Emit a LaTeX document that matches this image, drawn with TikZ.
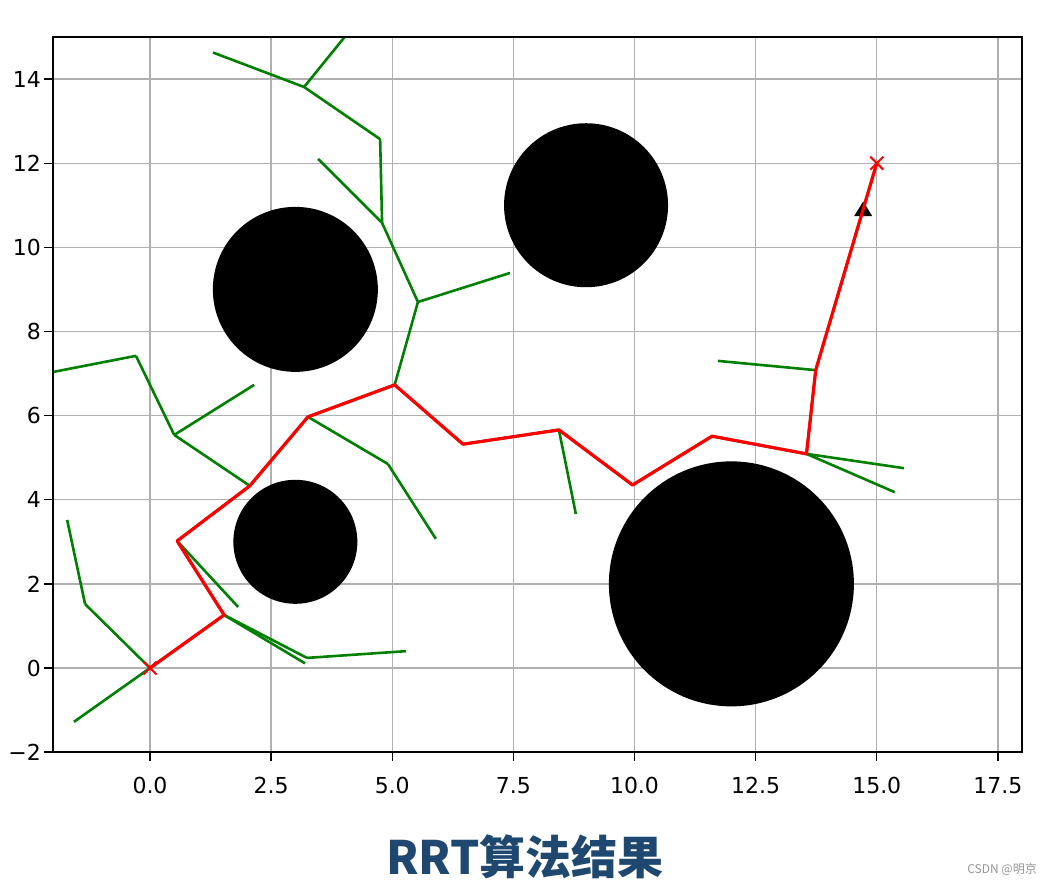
\documentclass[tikz,border=0pt]{standalone}
\usepackage{fontspec}
\newfontfamily\tickfont{DejaVu Sans}
\newfontfamily\cjkfont{Noto Sans CJK SC}
\usetikzlibrary{calc}
\definecolor{gridgray}{RGB}{176,176,176}
\definecolor{treegreen}{RGB}{0,128,0}
\definecolor{pathred}{RGB}{255,0,0}
\definecolor{titleblue}{RGB}{31,72,112}
\definecolor{markgray}{RGB}{150,150,150}
\tikzset{
  treeedge/.style={treegreen, line width=2.6pt},
  routeedge/.style={pathred, line width=3.2pt, line join=round},
  gridline/.style={gridgray, line width=1.3pt},
  frameline/.style={black, line width=1.5pt},
  tickmark/.style={black, line width=1.3pt},
  ticklab/.style={font=\tickfont\fontsize{22}{22}\selectfont, inner sep=0pt},
  obstacle/.style={fill=black},
  xmark/.style={pathred, line width=2pt},
}
\begin{document}
\begin{tikzpicture}[x=1pt,y=-1pt]
\useasboundingbox (0,0) rectangle (1052,886);
\fill[white] (0,0) rectangle (1052,886);

\begin{scope}[shift={(150,668)}, x=48.45pt, y=42.07pt]
  % grid
  \foreach \gx in {0,2.5,...,17.5} \draw[gridline] (\gx,-2) -- (\gx,15);
  \foreach \gy in {-2,0,...,14} \draw[gridline] (-2,\gy) -- (18,\gy);

  % obstacles
  \fill[obstacle] (3,9) circle[radius=82.5pt];
  \fill[obstacle] (9,11) circle[radius=82pt];
  \fill[obstacle] (3,3) circle[radius=62pt];
  \fill[obstacle] (12,2) circle[radius=122.5pt];

  % vertices
  \coordinate (s) at (0,0);
  \coordinate (t) at (1.53,1.26);
  \coordinate (q) at (0.56,3.02);
  \coordinate (n) at (2.06,4.33);
  \coordinate (o) at (3.26,5.97);
  \coordinate (e) at (5.05,6.73);
  \coordinate (f) at (6.46,5.32);
  \coordinate (g) at (8.44,5.66);
  \coordinate (h) at (9.96,4.35);
  \coordinate (i) at (11.6,5.51);
  \coordinate (j) at (13.55,5.09);
  \coordinate (k) at (13.74,7.08);
  \coordinate (goal) at (15,12);
  \coordinate (d) at (5.53,8.70);
  \coordinate (d1) at (7.43,9.39);
  \coordinate (c) at (4.79,10.58);
  \coordinate (c1) at (3.47,12.10);
  \coordinate (b) at (4.75,12.57);
  \coordinate (a) at (3.18,13.81);
  \coordinate (a1) at (1.30,14.63);
  \coordinate (a2) at (4.30,15.40);
  \coordinate (l) at (-0.29,7.42);
  \coordinate (l1) at (-2.30,6.97);
  \coordinate (m) at (0.50,5.54);
  \coordinate (m1) at (2.15,6.73);
  \coordinate (p) at (4.91,4.85);
  \coordinate (p1) at (5.90,3.07);
  \coordinate (g1) at (8.79,3.66);
  \coordinate (j1) at (15.56,4.75);
  \coordinate (j2) at (15.37,4.18);
  \coordinate (k1) at (11.72,7.30);
  \coordinate (q1) at (1.82,1.45);
  \coordinate (t1) at (3.20,0.11);
  \coordinate (u) at (3.24,0.24);
  \coordinate (u1) at (5.28,0.40);
  \coordinate (r) at (-1.34,1.52);
  \coordinate (r1) at (-1.71,3.52);
  \coordinate (s1) at (-1.57,-1.28);
  \coordinate (tri) at (14.72,10.91);

  \begin{scope}
    \clip (-2,-2) rectangle (18,15);
    % tree
    \foreach \u/\v in {s/r, r/r1, s/s1, s/t, t/q, q/q1, t/t1, t/u, u/u1, q/n, n/m, m/l, l/l1, m/m1, n/o, o/p, p/p1, o/e, e/d, d/d1, d/c, c/c1, c/b, b/a, a/a1, a/a2, e/f, f/g, g/g1, g/h, h/i, i/j, j/j1, j/j2, j/k, k/k1, k/goal}
      \draw[treeedge] (\u) -- (\v);
    % sample marker
    \fill[black] ([xshift=-9pt,yshift=-7pt]tri) -- ([xshift=9pt,yshift=-7pt]tri) -- ([yshift=7.5pt]tri) -- cycle;
    % path
    \draw[routeedge] (s) -- (t) -- (q) -- (n) -- (o) -- (e) -- (f) -- (g) -- (h) -- (i) -- (j) -- (k) -- (goal);
    % start / goal markers
    \foreach \pnt in {s,goal} {
      \draw[xmark] ([xshift=-6.5pt,yshift=-6.5pt]\pnt) -- ([xshift=6.5pt,yshift=6.5pt]\pnt);
      \draw[xmark] ([xshift=-6.5pt,yshift=6.5pt]\pnt) -- ([xshift=6.5pt,yshift=-6.5pt]\pnt);
    }
  \end{scope}

  % ticks and labels
  \foreach \gx/\lab in {0/0.0, 2.5/2.5, 5/5.0, 7.5/7.5, 10/10.0, 12.5/12.5, 15/15.0, 17.5/17.5} {
    \draw[tickmark] (\gx,-2) -- ([yshift=-9pt]\gx,-2);
    \node[ticklab, anchor=north] (xl\gx) at ([yshift=-25pt]\gx,-2) {\lab};
  }
  \foreach \gy/\lab in {-2/−2, 0/0, 2/2, 4/4, 6/6, 8/8, 10/10, 12/12, 14/14} {
    \draw[tickmark] (-2,\gy) -- ([xshift=-9pt]-2,\gy);
    \node[ticklab, anchor=east] (yl\gy) at ([xshift=-12pt]-2,\gy) {\lab};
  }
  % frame
  \draw[frameline] (-2,-2) rectangle (18,15);
\end{scope}

\node[font=\cjkfont\bfseries\fontsize{46}{46}\selectfont, text=titleblue, inner sep=0pt] (title) at (525,857) {RRT算法结果};
\node[font=\cjkfont\fontsize{12}{12}\selectfont, text=markgray, anchor=east, inner sep=0pt] (wm) at (1037,869) {CSDN @明京};
\end{tikzpicture}
\end{document}
